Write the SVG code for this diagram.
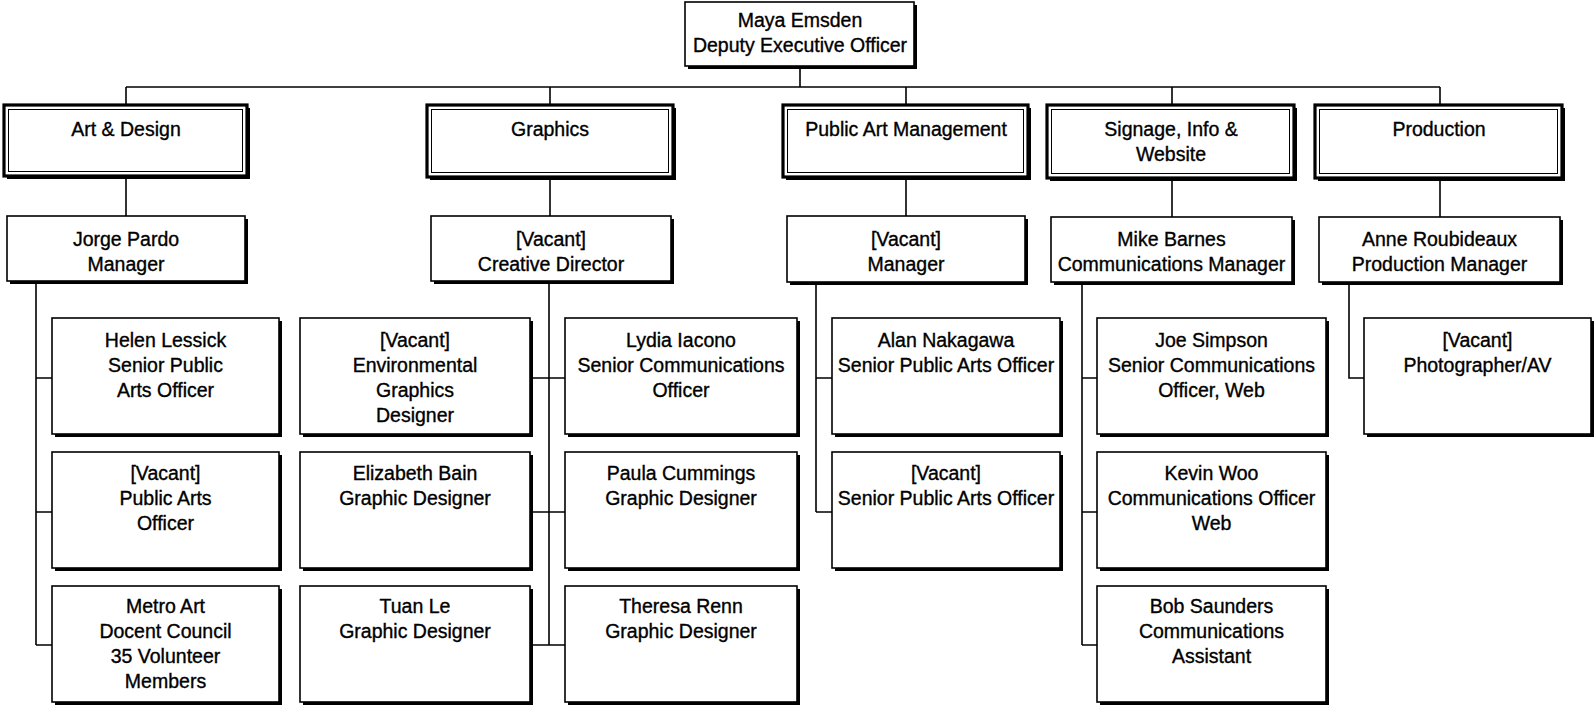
<svg xmlns="http://www.w3.org/2000/svg" width="1596" height="712" viewBox="0 0 1596 712">
<style>
.sh{fill:#000}
.bx{fill:#fff;stroke:#000;stroke-width:1.6}
.dOut{fill:#fff;stroke:#000;stroke-width:3.2}
.dIn{fill:none;stroke:#000;stroke-width:1}
.ln{fill:none;stroke:#000;stroke-width:1.6}
text{font-family:"Liberation Sans",Arial,sans-serif;font-size:19.5px;fill:#000;stroke:#000;stroke-width:0.35;text-anchor:middle}
</style>
<rect width="1596" height="712" fill="#fff"/>
<g id="connectors">
<path class="ln" d="M800 66V87M126 87H1440M126 87V105M550 87V105M906 87V105M1172 87V105M1440 87V105"/>
<path class="ln" d="M126 176V216M550 177V216M906 177V216M1172 178V217M1440 178V217"/>
<path class="ln" d="M36 281V645M36 378H52M36 512H52M36 645H52"/>
<path class="ln" d="M549 281V645M530 378H565M530 512H565M530 645H565"/>
<path class="ln" d="M816 282V512M816 378H832M816 512H832"/>
<path class="ln" d="M1082 282V645M1082 378H1097M1082 512H1097M1082 645H1097"/>
<path class="ln" d="M1349 282V378H1364"/>
</g>
<g id="n-maya"><rect class="sh" x="688" y="5" width="229" height="64"/><rect class="bx" x="685" y="2" width="229" height="64"/><text x="800" y="27">Maya Emsden</text><text x="800" y="52">Deputy Executive Officer</text></g>
<g id="d-art"><rect class="sh" x="7" y="108" width="243" height="71"/><rect class="dOut" x="4" y="105" width="243" height="71"/><rect class="dIn" x="8.5" y="109.5" width="234" height="62"/><text x="126" y="136">Art &amp; Design</text></g>
<g id="d-graphics"><rect class="sh" x="430" y="108" width="246" height="72"/><rect class="dOut" x="427" y="105" width="246" height="72"/><rect class="dIn" x="431.5" y="109.5" width="237" height="63"/><text x="550" y="136">Graphics</text></g>
<g id="d-pam"><rect class="sh" x="786" y="108" width="245" height="72"/><rect class="dOut" x="783" y="105" width="245" height="72"/><rect class="dIn" x="787.5" y="109.5" width="236" height="63"/><text x="906" y="136">Public Art Management</text></g>
<g id="d-signage"><rect class="sh" x="1050" y="108" width="247" height="73"/><rect class="dOut" x="1047" y="105" width="247" height="73"/><rect class="dIn" x="1051.5" y="109.5" width="238" height="64"/><text x="1171" y="136">Signage, Info &amp;</text><text x="1171" y="161">Website</text></g>
<g id="d-production"><rect class="sh" x="1318" y="108" width="247" height="73"/><rect class="dOut" x="1315" y="105" width="247" height="73"/><rect class="dIn" x="1319.5" y="109.5" width="238" height="64"/><text x="1439" y="136">Production</text></g>
<g id="n-jorge"><rect class="sh" x="10" y="219" width="238" height="65"/><rect class="bx" x="7" y="216" width="238" height="65"/><text x="126" y="246">Jorge Pardo</text><text x="126" y="271">Manager</text></g>
<g id="n-creative"><rect class="sh" x="434" y="219" width="240" height="65"/><rect class="bx" x="431" y="216" width="240" height="65"/><text x="551" y="246">[Vacant]</text><text x="551" y="271">Creative Director</text></g>
<g id="n-pam-mgr"><rect class="sh" x="790" y="219" width="238" height="66"/><rect class="bx" x="787" y="216" width="238" height="66"/><text x="906" y="246">[Vacant]</text><text x="906" y="271">Manager</text></g>
<g id="n-mike"><rect class="sh" x="1054" y="220" width="241" height="65"/><rect class="bx" x="1051" y="217" width="241" height="65"/><text x="1171.5" y="246">Mike Barnes</text><text x="1171.5" y="271">Communications Manager</text></g>
<g id="n-anne"><rect class="sh" x="1322" y="220" width="241" height="65"/><rect class="bx" x="1319" y="217" width="241" height="65"/><text x="1439.5" y="246">Anne Roubideaux</text><text x="1439.5" y="271">Production Manager</text></g>
<g id="n-helen"><rect class="sh" x="55" y="321" width="227" height="116"/><rect class="bx" x="52" y="318" width="227" height="116"/><text x="165.5" y="347">Helen Lessick</text><text x="165.5" y="372">Senior Public</text><text x="165.5" y="397">Arts Officer</text></g>
<g id="n-pao"><rect class="sh" x="55" y="455" width="227" height="116"/><rect class="bx" x="52" y="452" width="227" height="116"/><text x="165.5" y="480">[Vacant]</text><text x="165.5" y="505">Public Arts</text><text x="165.5" y="530">Officer</text></g>
<g id="n-docent"><rect class="sh" x="55" y="589" width="227" height="116"/><rect class="bx" x="52" y="586" width="227" height="116"/><text x="165.5" y="613">Metro Art</text><text x="165.5" y="638">Docent Council</text><text x="165.5" y="663">35 Volunteer</text><text x="165.5" y="688">Members</text></g>
<g id="n-egd"><rect class="sh" x="303" y="321" width="230" height="116"/><rect class="bx" x="300" y="318" width="230" height="116"/><text x="415" y="347">[Vacant]</text><text x="415" y="372">Environmental</text><text x="415" y="397">Graphics</text><text x="415" y="422">Designer</text></g>
<g id="n-bain"><rect class="sh" x="303" y="455" width="230" height="116"/><rect class="bx" x="300" y="452" width="230" height="116"/><text x="415" y="480">Elizabeth Bain</text><text x="415" y="505">Graphic Designer</text></g>
<g id="n-tuan"><rect class="sh" x="303" y="589" width="230" height="116"/><rect class="bx" x="300" y="586" width="230" height="116"/><text x="415" y="613">Tuan Le</text><text x="415" y="638">Graphic Designer</text></g>
<g id="n-lydia"><rect class="sh" x="568" y="321" width="232" height="116"/><rect class="bx" x="565" y="318" width="232" height="116"/><text x="681" y="347">Lydia Iacono</text><text x="681" y="372">Senior Communications</text><text x="681" y="397">Officer</text></g>
<g id="n-paula"><rect class="sh" x="568" y="455" width="232" height="116"/><rect class="bx" x="565" y="452" width="232" height="116"/><text x="681" y="480">Paula Cummings</text><text x="681" y="505">Graphic Designer</text></g>
<g id="n-theresa"><rect class="sh" x="568" y="589" width="232" height="116"/><rect class="bx" x="565" y="586" width="232" height="116"/><text x="681" y="613">Theresa Renn</text><text x="681" y="638">Graphic Designer</text></g>
<g id="n-alan"><rect class="sh" x="835" y="321" width="228" height="116"/><rect class="bx" x="832" y="318" width="228" height="116"/><text x="946" y="347">Alan Nakagawa</text><text x="946" y="372">Senior Public Arts Officer</text></g>
<g id="n-spao"><rect class="sh" x="835" y="455" width="228" height="116"/><rect class="bx" x="832" y="452" width="228" height="116"/><text x="946" y="480">[Vacant]</text><text x="946" y="505">Senior Public Arts Officer</text></g>
<g id="n-joe"><rect class="sh" x="1100" y="321" width="229" height="116"/><rect class="bx" x="1097" y="318" width="229" height="116"/><text x="1211.5" y="347">Joe Simpson</text><text x="1211.5" y="372">Senior Communications</text><text x="1211.5" y="397">Officer, Web</text></g>
<g id="n-kevin"><rect class="sh" x="1100" y="455" width="229" height="116"/><rect class="bx" x="1097" y="452" width="229" height="116"/><text x="1211.5" y="480">Kevin Woo</text><text x="1211.5" y="505">Communications Officer</text><text x="1211.5" y="530">Web</text></g>
<g id="n-bob"><rect class="sh" x="1100" y="589" width="229" height="116"/><rect class="bx" x="1097" y="586" width="229" height="116"/><text x="1211.5" y="613">Bob Saunders</text><text x="1211.5" y="638">Communications</text><text x="1211.5" y="663">Assistant</text></g>
<g id="n-photo"><rect class="sh" x="1367" y="321" width="227" height="116"/><rect class="bx" x="1364" y="318" width="227" height="116"/><text x="1477.5" y="347">[Vacant]</text><text x="1477.5" y="372">Photographer/AV</text></g>
</svg>
